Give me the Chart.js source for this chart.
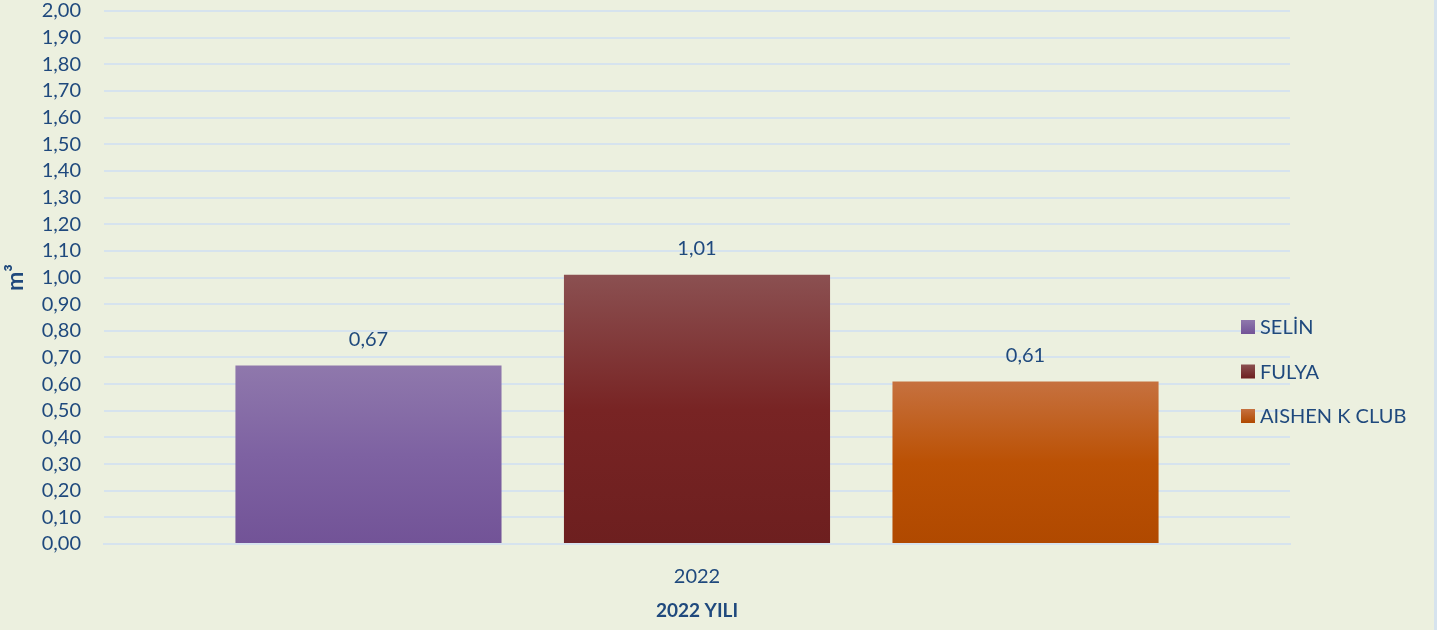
<!DOCTYPE html>
<html>
<head>
<meta charset="utf-8">
<script src="https://cdn.jsdelivr.net/npm/chart.js@4.4.0/dist/chart.umd.min.js"></script>
<style>
    html, body { margin: 0; padding: 0; background: #ecf0df; }
    #wrap { position: relative; width: 1437px; height: 630px; border-right: 3px solid #d6e3ee; box-sizing: border-box; }
</style>
</head>
<body>
<div id="wrap"><canvas id="chart"></canvas></div>
<script>
// Water use per hotel, 2022
const categories = ['2022'];
const hotels = ['SELİN', 'FULYA', 'AISHEN K CLUB'];
const values = [0.67, 1.01, 0.61];
// light top, base colour, dark bottom for each bar
const shades = [
    ['#8f78ac', '#7e62a2', '#725397'],
    ['#8b5051', '#782424', '#6d1f1f'],
    ['#c6713f', '#bb5104', '#b04900']
];

const textColor = '#1f497d';
const fontFamily = 'Lato, "Open Sans", sans-serif';

function fmt(v) {
    return v.toFixed(2).replace('.', ',');
}

function barFill(i) {
    return (ctx) => {
        const chart = ctx.chart;
        if (!chart.chartArea) return shades[i][1];
        const y = chart.scales.y;
        const top = y.getPixelForValue(values[i]);
        const bottom = y.getPixelForValue(0);
        const g = chart.ctx.createLinearGradient(0, top, 0, bottom);
        g.addColorStop(0, shades[i][0]);
        g.addColorStop(0.5, shades[i][1]);
        g.addColorStop(1, shades[i][2]);
        return g;
    };
}

// value labels above each bar
const valueLabels = {
    id: 'valueLabels',
    afterDatasetsDraw(chart) {
        const ctx = chart.ctx;
        ctx.save();
        ctx.fillStyle = textColor;
        ctx.font = '20px ' + fontFamily;
        ctx.textAlign = 'center';
        ctx.textBaseline = 'middle';
        chart.data.datasets.forEach((ds, i) => {
            const bar = chart.getDatasetMeta(i).data[0];
            ctx.fillText(fmt(ds.data[0]), bar.x, bar.y - 26);
        });
        ctx.restore();
    }
};

// legend sits over the right end of the plot area
const sideLegend = {
    id: 'sideLegend',
    afterDraw(chart) {
        const ctx = chart.ctx;
        const x = chart.chartArea.right - 49;
        ctx.save();
        ctx.font = '20px ' + fontFamily;
        ctx.textBaseline = 'middle';
        chart.data.datasets.forEach((ds, i) => {
            const y = 327 + i * 44.5;
            const g = ctx.createLinearGradient(0, y - 7, 0, y + 7);
            g.addColorStop(0, shades[i][0]);
            g.addColorStop(1, shades[i][2]);
            ctx.fillStyle = g;
            ctx.fillRect(x, y - 7, 14, 14);
            ctx.fillStyle = textColor;
            ctx.fillText(ds.label, x + 19, y + 1);
        });
        ctx.restore();
    }
};

new Chart(document.getElementById('chart'), {
    type: 'bar',
    data: {
        labels: categories,
        datasets: hotels.map((name, i) => ({
            label: name,
            data: [values[i]],
            backgroundColor: barFill(i),
            categoryPercentage: 0.831,
            barPercentage: 0.81
        }))
    },
    options: {
        responsive: true,
        maintainAspectRatio: false,
        animation: false,
        layout: { padding: { top: 11, right: 144, bottom: 0, left: 0 } },
        plugins: {
            legend: { display: false },
            tooltip: { enabled: false }
        },
        scales: {
            x: {
                afterFit: (s) => { s.height = 86; },
                grid: { display: false },
                border: { color: '#d6e3ee', width: 2 },
                ticks: { color: textColor, font: { family: fontFamily, size: 20 }, padding: 13 },
                title: {
                    display: true,
                    text: '2022 YILI',
                    color: textColor,
                    font: { family: fontFamily, size: 19, weight: 'bold' },
                    padding: { top: 6, bottom: 8 }
                }
            },
            y: {
                afterFit: (s) => {
                    s.width = 104;
                    s.paddingTop = 0;
                    s.paddingBottom = 0;
                },
                min: 0,
                max: 2,
                ticks: {
                    stepSize: 0.1,
                    autoSkip: false,
                    color: textColor,
                    font: { family: fontFamily, size: 20 },
                    padding: 23,
                    callback: (v) => fmt(v)
                },
                grid: { color: '#d6e3ee', lineWidth: 2, drawTicks: false },
                border: { display: false },
                title: {
                    display: true,
                    text: 'm³',
                    color: textColor,
                    font: { family: fontFamily, size: 23, weight: 'bold' },
                    padding: { top: 2, bottom: 4 }
                }
            }
        }
    },
    plugins: [valueLabels, sideLegend]
});
</script>
</body>
</html>
